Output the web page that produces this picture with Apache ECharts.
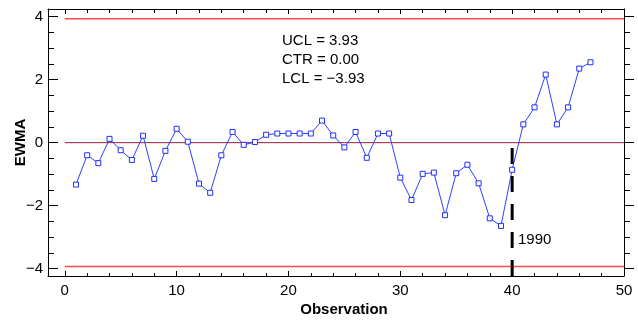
<!DOCTYPE html>
<html>
<head>
<meta charset="utf-8">
<script src="https://cdn.jsdelivr.net/npm/echarts@6/dist/echarts.min.js"></script>
<style>
html,body{margin:0;padding:0;background:#fff;}
#chart{width:638px;height:320px;}
</style>
</head>
<body>
<div id="chart"></div>
<script>
// ---- data ----
const observations = [1,2,3,4,5,6,7,8,9,10,11,12,13,14,15,16,17,18,19,20,21,22,23,24,25,26,27,28,29,30,31,32,33,34,35,36,37,38,39,40,41,42,43,44,45,46,47];
const ewma = [-1.33,-0.40,-0.65,0.12,-0.24,-0.55,0.22,-1.15,-0.26,0.44,0.03,-1.30,-1.59,-0.40,0.34,-0.07,0.02,0.25,0.29,0.29,0.29,0.29,0.70,0.23,-0.15,0.34,-0.48,0.29,0.29,-1.11,-1.82,-0.99,-0.95,-2.30,-0.97,-0.70,-1.29,-2.40,-2.64,-0.86,0.58,1.12,2.16,0.58,1.12,2.35,2.55];
const UCL = 3.93, CTR = 0.00, LCL = -3.93;
const limitSpan = [0, 50];
const changeObs = 40;
const changeLabel = '1990';
const xMajorTicks = [0,10,20,30,40,50];
const xMinorTicks = [2,4,6,8,12,14,16,18,22,24,26,28,32,34,36,38,42,44,46,48];
const yMajorTicks = [-4,-2,0,2,4];
const yMinorTicks = [-4,-3.5,-3,-2.5,-2,-1.5,-1,-0.5,0,0.5,1,1.5,2,2.5,3,3.5,4];
const xMin = -1.5, xMax = 50, yMin = -4.23, yMax = 4.24;

const FONT = "'Liberation Sans Narrow','Liberation Sans',Arial,sans-serif";
const fmt = v => (v < 0 ? '\u2212' + Math.abs(v) : String(v));

const chart = echarts.init(document.getElementById('chart'));
const baseX = {type:'value', min:xMin, max:xMax, splitLine:{show:false}, gridIndex:0};
const baseY = {type:'value', min:yMin, max:yMax, splitLine:{show:false}, gridIndex:0};
const line = {lineStyle:{color:'#000', width:1}};

chart.setOption({
  animation:false,
  grid:{left:48, right:14, top:9, bottom:44, containLabel:false, outerBoundsMode:'none'},
  xAxis:[
    Object.assign({}, baseX, {position:'bottom', axisLine:Object.assign({show:true,onZero:false}, line),
      axisTick:{show:true, inside:true, length:5, customValues:xMajorTicks, lineStyle:{color:'#000'}},
      axisLabel:{show:true, customValues:xMajorTicks, formatter:fmt, color:'#000', fontSize:15, fontFamily:FONT, margin:7},
      name:'Observation', nameLocation:'middle', nameGap:26, nameMoveOverlap:false,
      nameTextStyle:{color:'#000', fontWeight:'bold', fontSize:15, fontFamily:FONT, padding:[0,0,0,16]}}),
    Object.assign({}, baseX, {position:'bottom', axisLine:{show:false,onZero:false},
      axisTick:{show:true, inside:true, length:3, customValues:xMinorTicks, lineStyle:{color:'#000'}},
      axisLabel:{show:false}}),
    Object.assign({}, baseX, {position:'top', axisLine:Object.assign({show:true,onZero:false}, line),
      axisTick:{show:true, inside:true, length:5, customValues:xMajorTicks, lineStyle:{color:'#000'}},
      axisLabel:{show:false}}),
    Object.assign({}, baseX, {position:'top', axisLine:{show:false,onZero:false},
      axisTick:{show:true, inside:true, length:4, customValues:xMinorTicks, lineStyle:{color:'#000'}},
      axisLabel:{show:false}})
  ],
  yAxis:[
    Object.assign({}, baseY, {position:'left', axisLine:Object.assign({show:true,onZero:false}, line),
      axisTick:{show:true, inside:true, length:10, customValues:yMajorTicks, lineStyle:{color:'#000'}},
      axisLabel:{show:true, customValues:yMajorTicks, formatter:fmt, color:'#000', fontSize:15, fontFamily:FONT, margin:5},
      name:'EWMA', nameLocation:'middle', nameGap:20, nameRotate:90, nameMoveOverlap:false,
      nameTextStyle:{color:'#000', fontWeight:'bold', fontSize:15, fontFamily:FONT}}),
    Object.assign({}, baseY, {position:'left', axisLine:{show:false,onZero:false},
      axisTick:{show:true, inside:true, length:6, customValues:yMinorTicks, lineStyle:{color:'#000'}},
      axisLabel:{show:false}}),
    Object.assign({}, baseY, {position:'right', axisLine:Object.assign({show:true,onZero:false}, line),
      axisTick:{show:true, inside:false, length:10, customValues:yMajorTicks, lineStyle:{color:'#000'}},
      axisLabel:{show:false}}),
    Object.assign({}, baseY, {position:'right', axisLine:{show:false,onZero:false},
      axisTick:{show:true, inside:false, length:6, customValues:yMinorTicks, lineStyle:{color:'#000'}},
      axisLabel:{show:false}})
  ],
  series:[
    {type:'line', name:'UCL', data:limitSpan.map(x=>[x,UCL]), symbol:'none', silent:true,
      lineStyle:{color:'#ff4a4a', width:1.5}, z:1},
    {type:'line', name:'LCL', data:limitSpan.map(x=>[x,LCL]), symbol:'none', silent:true,
      lineStyle:{color:'#ff4a4a', width:1.5}, z:1},
    {type:'line', name:'CTR', data:limitSpan.map(x=>[x,CTR]), symbol:'none', silent:true,
      lineStyle:{color:'#8e1d3e', width:1}, z:1},
    {type:'line', name:'change', data:[[changeObs,yMin],[changeObs,CTR]], symbol:'none', silent:true,
      lineStyle:{color:'#000', width:3, type:[16,12]}, z:3},
    {type:'line', name:'EWMA', data:observations.map((x,i)=>[x,ewma[i]]),
      symbol:'rect', symbolSize:5, showAllSymbol:true,
      itemStyle:{color:'#fff', borderColor:'#2030ff', borderWidth:1},
      lineStyle:{color:'#3040ff', width:1}, z:2}
  ],
  graphic:[
    {type:'text', left:282, top:31, style:{text:'UCL = 3.93\nCTR = 0.00\nLCL = \u22123.93', font:'15px '+FONT, fill:'#000', lineHeight:19}},
    {type:'text', left:518, top:232, style:{text:changeLabel, font:'15px '+FONT, fill:'#000'}}
  ]
});
</script>
</body>
</html>
